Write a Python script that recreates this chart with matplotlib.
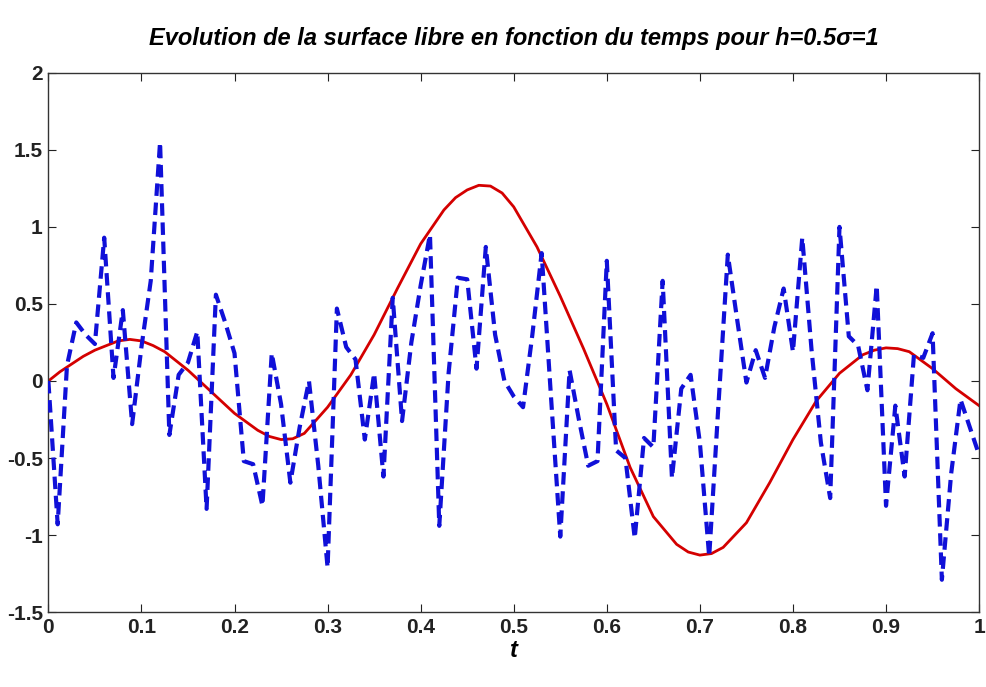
import matplotlib
matplotlib.use("Agg")
import matplotlib.pyplot as plt
from matplotlib import font_manager

# ---- data ----
t_blue = [0.00, 0.01, 0.02, 0.03, 0.04, 0.05, 0.06, 0.07, 0.08, 0.09,
          0.10, 0.11, 0.12, 0.13, 0.14, 0.15, 0.16, 0.17, 0.18, 0.19,
          0.20, 0.21, 0.22, 0.23, 0.24, 0.25, 0.26, 0.27, 0.28, 0.29,
          0.30, 0.31, 0.32, 0.33, 0.34, 0.35, 0.36, 0.37, 0.38, 0.39,
          0.40, 0.41, 0.42, 0.43, 0.44, 0.45, 0.46, 0.47, 0.48, 0.49,
          0.50, 0.51, 0.52, 0.53, 0.54, 0.55, 0.56, 0.57, 0.58, 0.59,
          0.60, 0.61, 0.62, 0.63, 0.64, 0.65, 0.66, 0.67, 0.68, 0.69,
          0.70, 0.71, 0.72, 0.73, 0.74, 0.75, 0.76, 0.77, 0.78, 0.79,
          0.80, 0.81, 0.82, 0.83, 0.84, 0.85, 0.86, 0.87, 0.88, 0.89,
          0.90, 0.91, 0.92, 0.93, 0.94, 0.95, 0.96, 0.97, 0.98, 0.99, 1.00]
eta_blue = [0.00, -0.93, 0.10, 0.38, 0.30, 0.24, 0.93, 0.02, 0.46, -0.28,
            0.22, 0.65, 1.55, -0.35, 0.04, 0.12, 0.32, -0.83, 0.56, 0.38,
            0.18, -0.52, -0.54, -0.81, 0.18, -0.15, -0.66, -0.30, 0.00, -0.55,
            -1.21, 0.47, 0.22, 0.14, -0.38, 0.05, -0.62, 0.54, -0.26, 0.25,
            0.62, 0.95, -0.94, 0.05, 0.67, 0.66, 0.08, 0.87, 0.30, 0.00,
            -0.10, -0.17, 0.30, 0.83, -0.10, -1.01, 0.07, -0.25, -0.55, -0.52,
            0.78, -0.45, -0.50, -1.02, -0.37, -0.43, 0.65, -0.63, -0.05, 0.04,
            -0.40, -1.14, -0.15, 0.82, 0.40, -0.01, 0.20, 0.02, 0.35, 0.60,
            0.19, 0.93, 0.20, -0.40, -0.76, 1.00, 0.29, 0.23, -0.06, 0.62,
            -0.81, -0.16, -0.62, 0.17, 0.15, 0.31, -1.29, -0.60, -0.12, -0.30, -0.48]

t_red = [0.000, 0.0125, 0.025, 0.0375, 0.050, 0.0625, 0.075, 0.0875, 0.100, 0.1125,
         0.125, 0.150, 0.175, 0.200, 0.225, 0.2375, 0.250, 0.2625, 0.275, 0.300,
         0.325, 0.350, 0.375, 0.400, 0.425, 0.4375, 0.450, 0.4625, 0.475, 0.4875,
         0.500, 0.525, 0.550, 0.575, 0.600, 0.625, 0.650, 0.675, 0.6875, 0.700,
         0.7125, 0.725, 0.750, 0.775, 0.800, 0.825, 0.850, 0.875, 0.8875, 0.900,
         0.9125, 0.925, 0.950, 0.975, 1.000]
eta_red = [0.00, 0.06, 0.11, 0.16, 0.20, 0.23, 0.26, 0.27, 0.26, 0.23,
           0.19, 0.07, -0.07, -0.21, -0.32, -0.36, -0.38, -0.375, -0.34, -0.17,
           0.04, 0.30, 0.60, 0.89, 1.11, 1.19, 1.24, 1.27, 1.265, 1.22,
           1.13, 0.87, 0.55, 0.21, -0.15, -0.56, -0.88, -1.06, -1.11, -1.13,
           -1.12, -1.08, -0.92, -0.66, -0.38, -0.13, 0.05, 0.17, 0.20, 0.215,
           0.21, 0.19, 0.08, -0.05, -0.16]

xticks = [0, 0.1, 0.2, 0.3, 0.4, 0.5, 0.6, 0.7, 0.8, 0.9, 1]
xticklabels = ["0", "0.1", "0.2", "0.3", "0.4", "0.5", "0.6", "0.7", "0.8", "0.9", "1"]
yticks = [-1.5, -1, -0.5, 0, 0.5, 1, 1.5, 2]
yticklabels = ["-1.5", "-1", "-0.5", "0", "0.5", "1", "1.5", "2"]

title = "Evolution de la surface libre en fonction du temps pour h=0.5\u03c3=1"
xlabel = "t"

# ---- fonts ----
names = {f.name for f in font_manager.fontManager.ttflist}
narrow = "Liberation Sans Narrow" if "Liberation Sans Narrow" in names else "Liberation Sans"
plt.rcParams["font.family"] = [narrow, "DejaVu Sans"]

fig = plt.figure(figsize=(9.87, 6.87), dpi=100)
ax = fig.add_axes([0.049, 0.109, 0.943, 0.785])

ax.plot(t_red, eta_red, color="#d40000", lw=2.0, zorder=2)
ax.plot(t_blue, eta_blue, color="#1010d8", lw=3.0, ls=(0, (3.0, 1.6)), zorder=3)

ax.set_xlim(0, 1)
ax.set_ylim(-1.5, 2)
ax.set_xticks(xticks)
ax.set_xticklabels(xticklabels)
ax.set_yticks(yticks)
ax.set_yticklabels(yticklabels)
ax.tick_params(direction="in", length=6, width=0.8, top=True, right=True,
               labelsize=15, colors="#222222", pad=4)
for lab in ax.get_xticklabels() + ax.get_yticklabels():
    lab.set_fontweight("bold")
for s in ax.spines.values():
    s.set_linewidth(1.0)
    s.set_color("#333333")

ax.set_title(title, fontsize=17, fontweight="bold", fontstyle="italic", pad=20)
ax.set_xlabel(xlabel, fontsize=17, fontstyle="italic", fontweight="bold", labelpad=2)

fig.savefig("out.png", dpi=100, facecolor="white")
